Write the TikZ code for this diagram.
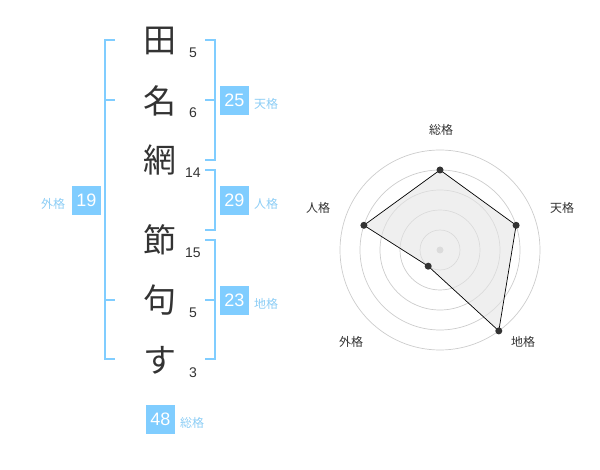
\documentclass[tikz,border=0pt]{standalone}
\usepackage{fontspec}
\setmainfont{Liberation Sans}
\newfontfamily\cjk{Noto Sans CJK JP}
\definecolor{kblue}{RGB}{128,205,255}
\definecolor{kblue2}{RGB}{140,205,245}
\definecolor{ink}{RGB}{51,51,51}
\definecolor{ring}{RGB}{204,204,204}
\tikzset{
  kanji/.style={font=\cjk\fontsize{33}{33}\selectfont, text=ink, inner sep=0pt},
  strokes/.style={font=\fontsize{14}{14}\selectfont, text=ink, inner sep=0pt},
  valbox/.style={fill=kblue, text=white, minimum size=29pt, inner sep=0pt, font=\fontsize{18}{18}\selectfont},
  kaku/.style={font=\cjk\fontsize{12}{12}\selectfont, text=kblue2, inner sep=0pt},
  bracket/.style={draw=kblue, line width=2pt},
  axislabel/.style={font=\cjk\fontsize{12}{12}\selectfont, text=ink, inner sep=0pt},
  ringline/.style={draw=ring, line width=0.7pt},
  dot/.style={circle, fill=ink, inner sep=0pt, minimum size=7pt},
}
\begin{document}
\begin{tikzpicture}[x=1pt,y=-1pt]
\useasboundingbox (0,0) rectangle (600,470);
% characters
\node[kanji] (c1) at (160,41) {田};
\node[kanji] (c2) at (160,101) {名};
\node[kanji] (c3) at (160,160) {網};
\node[kanji] (c4) at (160,240) {節};
\node[kanji] (c5) at (160,300) {句};
\node[kanji] (c6) at (160,360) {す};
% stroke counts
\node[strokes] (n1) at (193,53) {5};
\node[strokes] (n2) at (193,113) {6};
\node[strokes] (n3) at (193,173) {14};
\node[strokes] (n4) at (193,253) {15};
\node[strokes] (n5) at (193,313) {5};
\node[strokes] (n6) at (193,373) {3};
% brackets
\draw[bracket] (115,40) -- (105,40) -- (105,359) -- (115,359);
\draw[bracket] (105,100) -- (115,100);
\draw[bracket] (105,300) -- (115,300);
\draw[bracket] (205,40) -- (215,40) -- (215,160) -- (205,160);
\draw[bracket] (205,100) -- (215,100);
\draw[bracket] (205,170) -- (215,170) -- (215,230) -- (205,230);
\draw[bracket] (205,240) -- (215,240) -- (215,359) -- (205,359);
\draw[bracket] (205,300) -- (215,300);
% value boxes
\node[valbox] (ten) at (234.5,100.5) {25};
\node[kaku] (tenl) at (266,104) {天格};
\node[valbox] (jin) at (234.5,200.5) {29};
\node[kaku] (jinl) at (266,204) {人格};
\node[valbox] (chi) at (234.5,300.5) {23};
\node[kaku] (chil) at (266,304) {地格};
\node[valbox] (gai) at (86.5,200.5) {19};
\node[kaku] (gail) at (53,204) {外格};
\node[valbox] (sou) at (160.5,419.5) {48};
\node[kaku] (soul) at (192,423) {総格};
% radar
\coordinate (ctr) at (440,250);
\foreach \r in {20,40,60,80,100} \draw[ringline] (ctr) circle (\r);
\fill[ring] (ctr) circle (3.5);
\coordinate (pS) at (440,170);
\coordinate (pT) at (516.1,225.3);
\coordinate (pC) at (498.8,330.9);
\coordinate (pG) at (428.2,266.2);
\coordinate (pJ) at (363.9,225.3);
\draw[fill=black!10, fill opacity=0.6, draw=black, line width=0.7pt] (pS) -- (pT) -- (pC) -- (pG) -- (pJ) -- cycle;
\foreach \p in {pS,pT,pC,pG,pJ} \node[dot] at (\p) {};
\node[axislabel] (aS) at (441,130) {総格};
\node[axislabel] (aT) at (562,208) {天格};
\node[axislabel] (aC) at (523,342) {地格};
\node[axislabel] (aG) at (351,342) {外格};
\node[axislabel] (aJ) at (318,208) {人格};
\end{tikzpicture}
\end{document}
